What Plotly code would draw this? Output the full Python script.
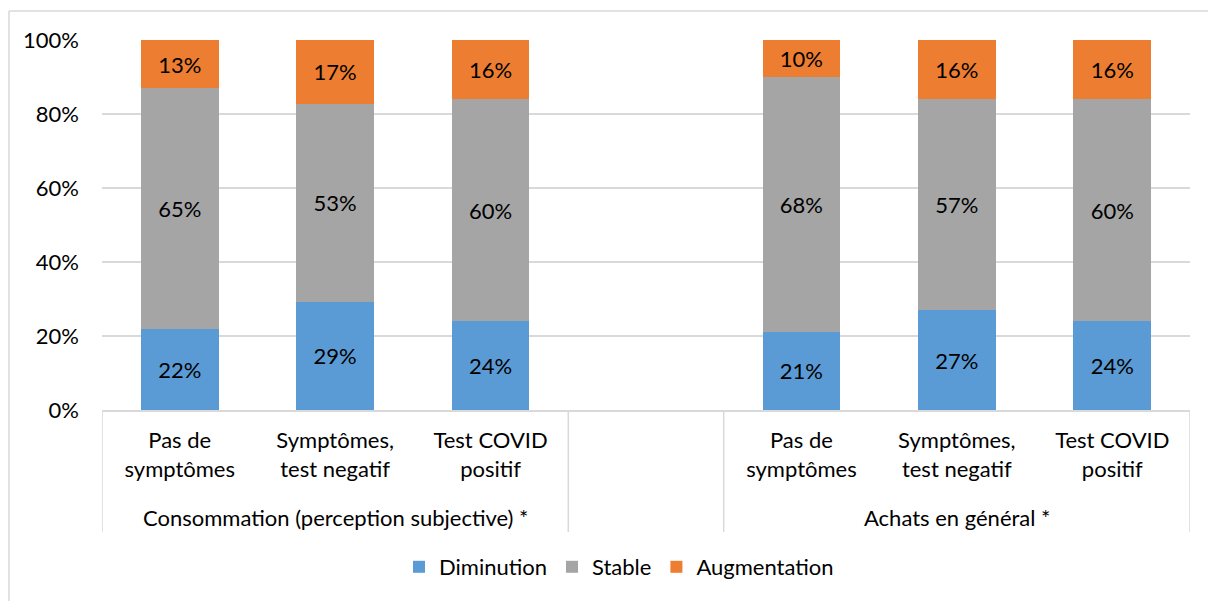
import plotly.graph_objects as go

# Survey categories (two groups of three, with an empty slot between them)
groups = ["Consommation (perception subjective) *", "Achats en général *"]
sub_labels = ["Pas de<br>symptômes", "Symptômes,<br>test negatif", "Test COVID<br>positif"]

# Shares (%) per answer, first group then second group
diminution = [22, 29, 24, 21, 27, 24]
stable = [65, 53, 60, 68, 57, 60]
augmentation = [13, 17, 16, 10, 16, 16]

# y-axis ticks
y_ticks = [0, 20, 40, 60, 80, 100]
y_tick_text = [f"{v}%" for v in y_ticks]

series = [
    ("Diminution", diminution, "#5B9BD5"),
    ("Stable", stable, "#A5A5A5"),
    ("Augmentation", augmentation, "#ED7D31"),
]

# slot positions: 0,1,2 for the first group, 4,5,6 for the second
x_pos = [0, 1, 2, 4, 5, 6]
tick_text = sub_labels + sub_labels

FONT = "Lato"
FS = 22
GRID = "#D9D9D9"

fig = go.Figure()
for name, vals, color in series:
    fig.add_trace(go.Bar(
        x=x_pos, y=vals, name=name,
        marker=dict(color=color, line=dict(width=0)),
        text=[f"{v}%" for v in vals],
        textposition="inside", insidetextanchor="middle", textangle=0,
        textfont=dict(family=FONT, size=FS, color="#000000"),
    ))

L, R, T, B = 102, 18, 40, 191
W, H = 1208, 601
pw, ph = W - L - R, H - T - B


def px_x(p):
    return (p - L) / pw


def px_y(p):
    return (H - B - p) / ph


shapes = []
# group separators below the category axis
for xv in [-0.5, 2.5, 3.5, 6.5]:
    shapes.append(dict(type="line", xref="x", yref="paper", x0=xv, x1=xv,
                       y0=0, y1=px_y(532), line=dict(color=GRID, width=1.5)))
# chart frame
shapes.append(dict(type="line", xref="paper", yref="paper", x0=px_x(9), x1=px_x(1230),
                   y0=px_y(11), y1=px_y(11), line=dict(color=GRID, width=1.5)))
shapes.append(dict(type="line", xref="paper", yref="paper", x0=px_x(9), x1=px_x(9),
                   y0=px_y(11), y1=px_y(640), line=dict(color=GRID, width=1.5)))

annotations = [
    dict(x=1, y=px_y(517), xref="x", yref="paper", text=groups[0], showarrow=False,
         font=dict(family=FONT, size=FS, color="#000000"), yanchor="middle"),
    dict(x=5, y=px_y(517), xref="x", yref="paper", text=groups[1], showarrow=False,
         font=dict(family=FONT, size=FS, color="#000000"), yanchor="middle"),
]

fig.update_layout(
    width=W, height=H,
    margin=dict(l=L, r=R, t=T, b=B),
    paper_bgcolor="white", plot_bgcolor="white",
    barmode="stack", barnorm="percent", bargap=0.5,
    font=dict(family=FONT, size=FS, color="#000000"),
    showlegend=True,
    legend=dict(orientation="h", x=px_x(619), xanchor="center", y=px_y(567), yanchor="middle",
                font=dict(family=FONT, size=FS, color="#000000"), traceorder="normal",
                itemclick=False),
    shapes=shapes, annotations=annotations,
)
fig.update_xaxes(
    range=[-0.5, 6.5], tickmode="array", tickvals=x_pos, ticktext=tick_text,
    showgrid=False, zeroline=False, showline=True, linecolor=GRID, linewidth=1.5,
    ticks="", ticklabelstandoff=10, tickfont=dict(family=FONT, size=FS),
)
fig.update_yaxes(
    range=[0, 100], tickmode="array", tickvals=y_ticks, ticktext=y_tick_text,
    showgrid=True, gridcolor=GRID, gridwidth=1.5, zeroline=False, showline=False,
    ticks="", ticklabelstandoff=22, tickfont=dict(family=FONT, size=FS),
)

fig.write_html("out.html")
